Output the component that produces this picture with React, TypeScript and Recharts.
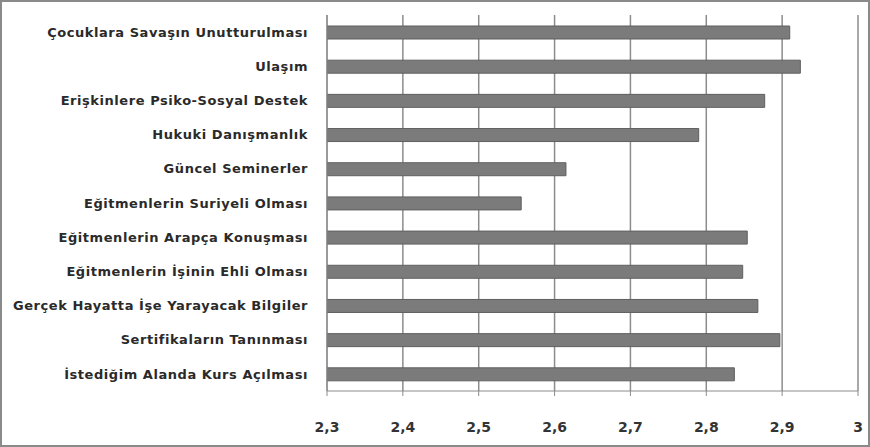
import React from "react";
import {
  BarChart,
  Bar,
  XAxis,
  YAxis,
  CartesianGrid,
} from "recharts";

const CATEGORIES = [
  "Çocuklara Savaşın Unutturulması",
  "Ulaşım",
  "Erişkinlere Psiko-Sosyal Destek",
  "Hukuki Danışmanlık",
  "Güncel Seminerler",
  "Eğitmenlerin Suriyeli Olması",
  "Eğitmenlerin Arapça Konuşması",
  "Eğitmenlerin İşinin Ehli Olması",
  "Gerçek Hayatta İşe Yarayacak Bilgiler",
  "Sertifikaların Tanınması",
  "İstediğim Alanda Kurs Açılması",
];

const SCORES = [2.91, 2.924, 2.877, 2.79, 2.615, 2.556, 2.854, 2.848, 2.868, 2.897, 2.837];

const X_TICKS = [2.3, 2.4, 2.5, 2.6, 2.7, 2.8, 2.9, 3];

const data = CATEGORIES.map((name, i) => ({ name, value: SCORES[i] }));

const FONT = "'DejaVu Sans', sans-serif";

const App: React.FC = () => {
  return (
    <div
      style={{
        position: "fixed",
        left: 0,
        top: 0,
        width: 870,
        height: 447,
        background: "#ffffff",
        boxSizing: "border-box",
        border: "2px solid #8a8a8a",
        fontFamily: FONT,
      }}
    >
      <div style={{ position: "absolute", left: -2, top: -2 }}>
        <BarChart
          width={870}
          height={447}
          data={data}
          layout="vertical"
          margin={{ top: 15, right: 12, left: 0, bottom: 9 }}
          barCategoryGap={0}
        >
          <CartesianGrid
            horizontal={false}
            vertical={true}
            stroke="#8c8c8c"
            strokeWidth={1.5}
          />
          <XAxis
            type="number"
            domain={[2.3, 3]}
            ticks={X_TICKS}
            allowDataOverflow
            height={47}
            tickSize={5}
            tickMargin={26}
            stroke="#8c8c8c"
            tick={{ fill: "#333333", fontSize: 14, fontWeight: 700, fontFamily: FONT }}
            tickFormatter={(v: number) => String(v).replace(".", ",")}
          />
          <YAxis
            type="category"
            dataKey="name"
            width={327}
            tickLine={false}
            tickMargin={13}
            stroke="#8c8c8c"
            interval={0}
            tick={{
              fill: "#2a2a2a",
              fontSize: 13,
              fontWeight: 700,
              fontFamily: FONT,
              letterSpacing: 0.55,
            }}
          />
          <Bar
            dataKey="value"
            fill="#7b7b7b"
            stroke="#5f5f5f"
            strokeWidth={1}
            barSize={13}
            isAnimationActive={false}
          />
        </BarChart>
      </div>
    </div>
  );
};

export default App;
